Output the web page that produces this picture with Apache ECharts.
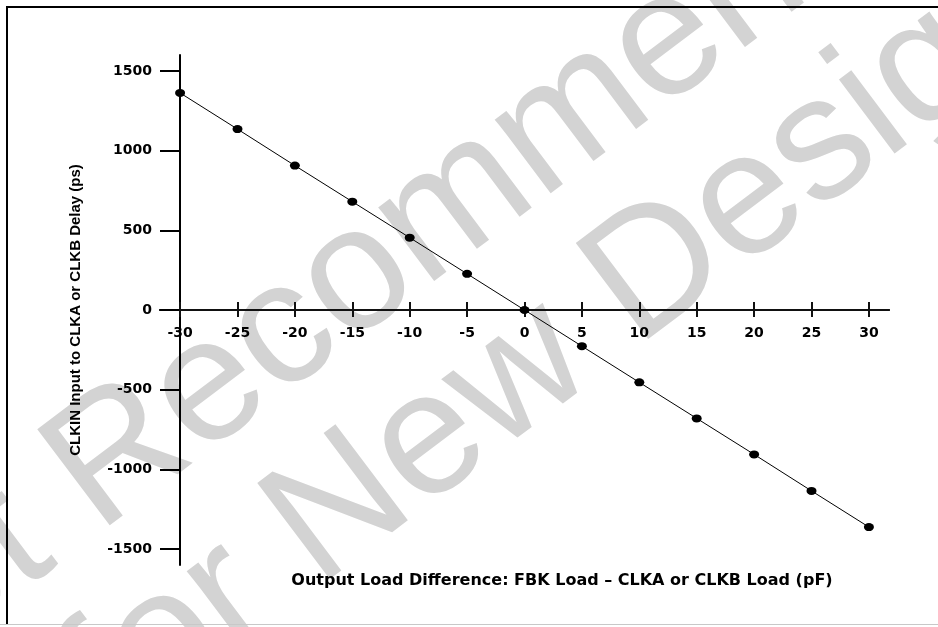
<!DOCTYPE html>
<html>
<head>
<meta charset="utf-8">
<script src="https://cdn.jsdelivr.net/npm/echarts@6/dist/echarts.min.js"></script>
<style>
html,body{margin:0;padding:0;background:#fff;}
#chart{width:938px;height:627px;}
</style>
</head>
<body>
<div id="chart"></div>
<script>
// ---- data ----
const loadDiffPf = [-30, -25, -20, -15, -10, -5, 0, 5, 10, 15, 20, 25, 30];
const delayPs = [1362, 1135, 906, 680, 454, 227, 0, -227, -454, -680, -906, -1135, -1362];
const xTicks = [-30, -25, -20, -15, -10, -5, 0, 5, 10, 15, 20, 25, 30];
const yTicks = [-1500, -1000, -500, 0, 500, 1000, 1500];
const xName = 'Output Load Difference: FBK Load \u2013 CLKA or CLKB Load (pF)';
const yName = 'CLKIN Input to CLKA or CLKB Delay (ps)';
const watermarkLines = ['Not Recommended', 'for New Designs'];

const X_MIN = -31.75, X_MAX = 31.75, Y_MIN = -1600, Y_MAX = 1600;
const chart = echarts.init(document.getElementById('chart'), null, {renderer: 'canvas'});
const labelFont = {fontFamily: 'DejaVu Sans', fontWeight: 'bold', fontSize: 14, color: '#000', formatter: v => String(v)};
const rot = 37 * Math.PI / 180;
const common = {left: 160, right: 49, containLabel: false, outerBoundsMode: 'none'};

const option = {
  animation: false,
  backgroundColor: '#fff',
  grid: [
    Object.assign({top: 55, bottom: 62}, common),   // main plotting grid
    Object.assign({top: 55, bottom: 317}, common),  // upper half: x axis on its bottom edge (y = 0)
    Object.assign({top: 310, bottom: 62}, common)   // lower half: x axis on its top edge (y = 0)
  ],
  xAxis: [{
    gridIndex: 0, type: 'value', min: X_MIN, max: X_MAX, show: false
  }, {
    gridIndex: 1, type: 'value', position: 'bottom', min: X_MIN, max: X_MAX,
    axisLine: {show: true, onZero: false, lineStyle: {color: '#111', width: 2}},
    axisTick: {show: true, inside: true, length: 8, customValues: xTicks, lineStyle: {color: '#111', width: 2}},
    axisLabel: Object.assign({customValues: xTicks, margin: 16}, labelFont),
    splitLine: {show: false},
    name: xName, nameLocation: 'middle', nameGap: 263,
    nameTextStyle: {fontFamily: 'DejaVu Sans', fontWeight: 'bold', fontSize: 16, color: '#000', padding: [0, 0, 0, 75]}
  }, {
    gridIndex: 2, type: 'value', position: 'top', min: X_MIN, max: X_MAX,
    axisLine: {show: true, onZero: false, lineStyle: {color: '#111', width: 2}},
    axisTick: {show: true, inside: true, length: 7, customValues: xTicks, lineStyle: {color: '#111', width: 2}},
    axisLabel: {show: false},
    splitLine: {show: false}
  }],
  yAxis: [{
    gridIndex: 0, type: 'value', position: 'left', offset: -20, min: Y_MIN, max: Y_MAX,
    axisLine: {show: true, onZero: false, lineStyle: {color: '#000', width: 2}},
    axisTick: {show: true, inside: false, length: 20, customValues: yTicks, lineStyle: {color: '#000', width: 2}},
    axisLabel: Object.assign({customValues: yTicks, margin: 28}, labelFont),
    splitLine: {show: false},
    name: yName, nameLocation: 'middle', nameGap: 97, nameRotate: 90,
    nameTextStyle: {fontFamily: 'Liberation Sans', fontWeight: 'bold', fontSize: 15, color: '#000'}
  }, {
    gridIndex: 1, type: 'value', min: 0, max: Y_MAX, show: false
  }, {
    gridIndex: 2, type: 'value', min: Y_MIN, max: 0, show: false
  }],
  graphic: [
    {type: 'text', x: 415, y: 235, rotation: rot, z: -10, silent: true,
      style: {text: watermarkLines[0], fontFamily: 'Liberation Sans', fontSize: 175, fill: '#d3d3d3', align: 'center', verticalAlign: 'middle'}},
    {type: 'text', x: 600, y: 315, rotation: rot, z: -10, silent: true,
      style: {text: watermarkLines[1], fontFamily: 'Liberation Sans', fontSize: 175, fill: '#d3d3d3', align: 'center', verticalAlign: 'middle'}},
    {type: 'line', z: 100, silent: true, shape: {x1: 6, y1: 7, x2: 938, y2: 7}, style: {stroke: '#000', lineWidth: 2}},
    {type: 'line', z: 100, silent: true, shape: {x1: 7, y1: 6, x2: 7, y2: 624}, style: {stroke: '#000', lineWidth: 2}},
    {type: 'line', z: 100, silent: true, shape: {x1: 0, y1: 624.5, x2: 938, y2: 624.5}, style: {stroke: '#c8c8c8', lineWidth: 1}}
  ],
  series: [{
    type: 'line',
    xAxisIndex: 0, yAxisIndex: 0,
    data: loadDiffPf.map((x, i) => [x, delayPs[i]]),
    symbol: 'circle', symbolSize: [10, 8], showSymbol: true,
    lineStyle: {color: '#000', width: 1},
    itemStyle: {color: '#000'},
    z: 5
  }]
};
chart.setOption(option);
</script>
</body>
</html>
